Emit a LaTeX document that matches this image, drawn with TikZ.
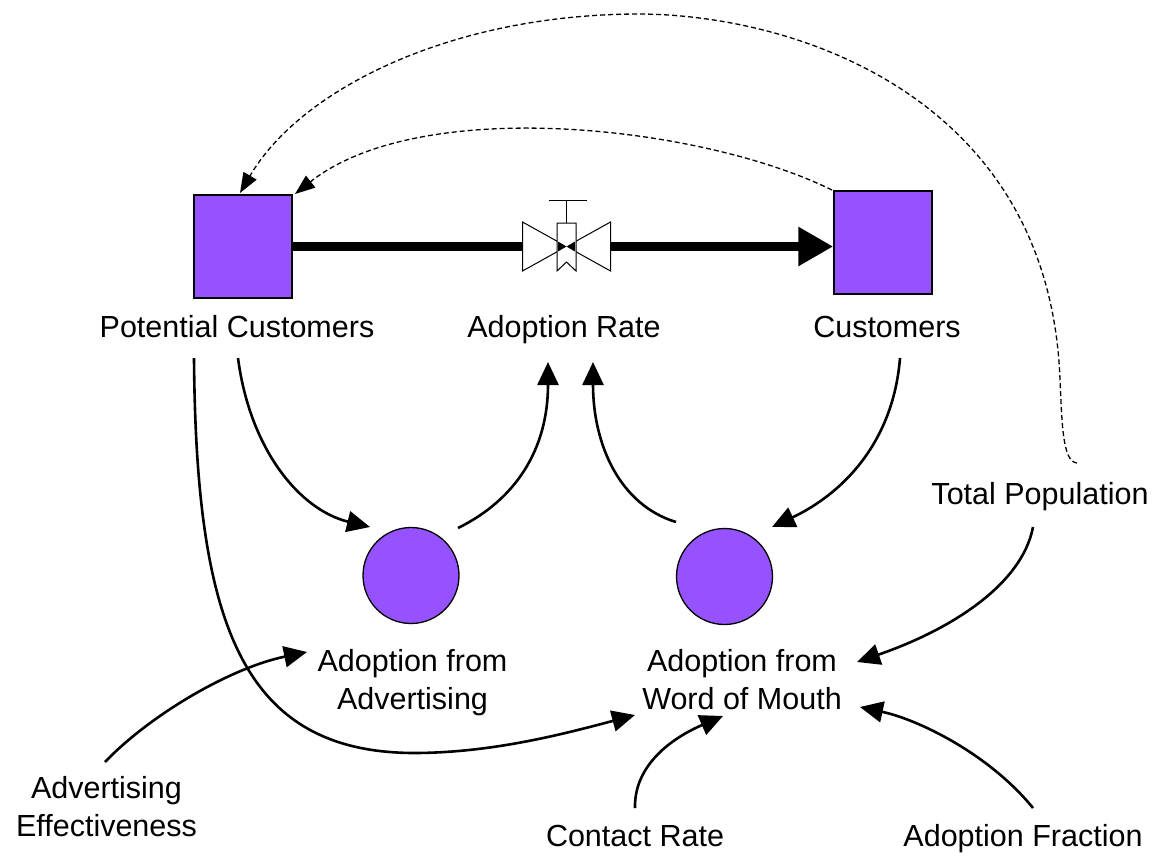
\documentclass[tikz,border=0pt]{standalone}
\usepackage{fontspec}
\setmainfont{Liberation Sans}
\usetikzlibrary{arrows.meta}
\definecolor{stockfill}{RGB}{150,82,255}
\begin{document}
\begin{tikzpicture}[x=1pt,y=-1pt,
  lbl/.style={font=\fontsize{30.5}{38}\selectfont, inner sep=0pt, align=center},
  stock/.style={draw=black, line width=1.5pt, fill=stockfill, inner sep=0pt,
                minimum width=98pt, minimum height=103pt},
  aux/.style={circle, draw=black, line width=1.3pt, fill=stockfill,
              minimum size=96pt, inner sep=0pt},
  link/.style={line width=2.6pt, -{Triangle[length=23pt,width=21pt]}},
  info/.style={line width=1.3pt, dash pattern=on 5pt off 3pt,
               -{Triangle[length=20pt,width=15pt]}},
  pipe/.style={line width=9pt},
  valvepart/.style={draw=black, line width=1pt, fill=white}]

\useasboundingbox (0,0) rectangle (1167,857);

% stocks and auxiliaries
\node[stock] (pcbox) at (243,246.5) {};
\node[stock] (cbox) at (883,242.5) {};
\node[aux] (aa) at (411,575.5) {};
\node[aux] (wm) at (724.5,576.5) {};
\coordinate (valve) at (566.5,246.5);

% labels
\node[lbl, anchor=base] (pclbl) at (237,337) {Potential Customers};
\node[lbl, anchor=base] (arlbl) at (564,337) {Adoption Rate};
\node[lbl, anchor=base] (clbl) at (887,337) {Customers};
\node[lbl, anchor=base] (tplbl) at (1040,504) {Total Population};
\node[lbl] (aalbl) at (412.5,683) {Adoption from\\Advertising};
\node[lbl] (wmlbl) at (742,680) {Adoption from\\Word of Mouth};
\node[lbl] (aelbl) at (106.5,806.5) {Advertising\\Effectiveness};
\node[lbl, anchor=base] (crlbl) at (635,846) {Contact Rate};
\node[lbl, anchor=base] (aflbl) at (1023,846) {Adoption Fraction};

% flow pipe
\draw[pipe] (pcbox.east |- valve) -- ([xshift=-44pt]valve);
\draw[pipe, -{Triangle[length=35pt,width=37pt]}] ([xshift=44pt]valve) -- (cbox.west |- valve);

% valve
\begin{scope}[shift={(valve)}]
  \draw[valvepart] (-44,-24.5) -- (-44,24.5) -- (0,0) -- cycle;
  \draw[valvepart] (44,-24.5) -- (44,24.5) -- (0,0) -- cycle;
  \draw[valvepart] (-9.5,-23.5) -- (9.5,-23.5) -- (9.5,24.5) -- (0,15.5) -- (-9.5,24.5) -- cycle;
  \fill (-8.5,-5) -- (0,0) -- (-8.5,5) -- cycle;
  \fill (8.5,-5) -- (0,0) -- (8.5,5) -- cycle;
  \draw[line width=1pt] (0,-23.5) -- (0,-46.5) (-18,-46.5) -- (20,-46.5);
\end{scope}

% connector end points
\coordinate (pcA) at (238,358);
\coordinate (pcB) at (194,358);
\coordinate (aaIn) at (370,527);
\coordinate (aaOut) at (458,528);
\coordinate (arInL) at (548,362);
\coordinate (arInR) at (593,362);
\coordinate (wmOut) at (676,522);
\coordinate (cOut) at (900,358);
\coordinate (wmInC) at (772,527);
\coordinate (aeOut) at (105,762);
\coordinate (aaInE) at (307,652);
\coordinate (wmInP) at (635,715);
\coordinate (crOut) at (635,808);
\coordinate (wmInR) at (723,716);
\coordinate (afOut) at (1033,808);
\coordinate (wmInF) at (860,707);
\coordinate (tpOut) at (1033,527);
\coordinate (wmInT) at (857,662);
\coordinate (cCorner) at (832,190);
\coordinate (pcInC) at (295,194);
\coordinate (tpHook) at (1077,463);
\coordinate (pcInT) at (240,193);

% causal links
\draw[link] (pcA) .. controls (250,450) and (300,510) .. (aaIn);
\draw[link] (aaOut) .. controls (515,500) and (548,450) .. (arInL);
\draw[link] (wmOut) .. controls (620,505) and (593,445) .. (arInR);
\draw[link] (cOut) .. controls (893,445) and (840,495) .. (wmInC);
\draw[link] (pcB) .. controls (196,620) and (240,752) .. (413,753)
               .. controls (490,753) and (560,735) .. (wmInP);
\draw[link] (aeOut) .. controls (150,715) and (230,668) .. (aaInE);
\draw[link] (crOut) .. controls (634,765) and (672,738) .. (wmInR);
\draw[link] (afOut) .. controls (990,755) and (920,720) .. (wmInF);
\draw[link] (tpOut) .. controls (1022,585) and (950,630) .. (wmInT);

% information links
\draw[info] (cCorner) .. controls (700,125) and (420,95) .. (pcInC);
\draw[info] (tpHook) .. controls (1062,462) and (1062,420) .. (1060,380)
               .. controls (1050,100) and (800,15) .. (640,14)
               .. controls (450,14) and (300,90) .. (pcInT);
\end{tikzpicture}
\end{document}
